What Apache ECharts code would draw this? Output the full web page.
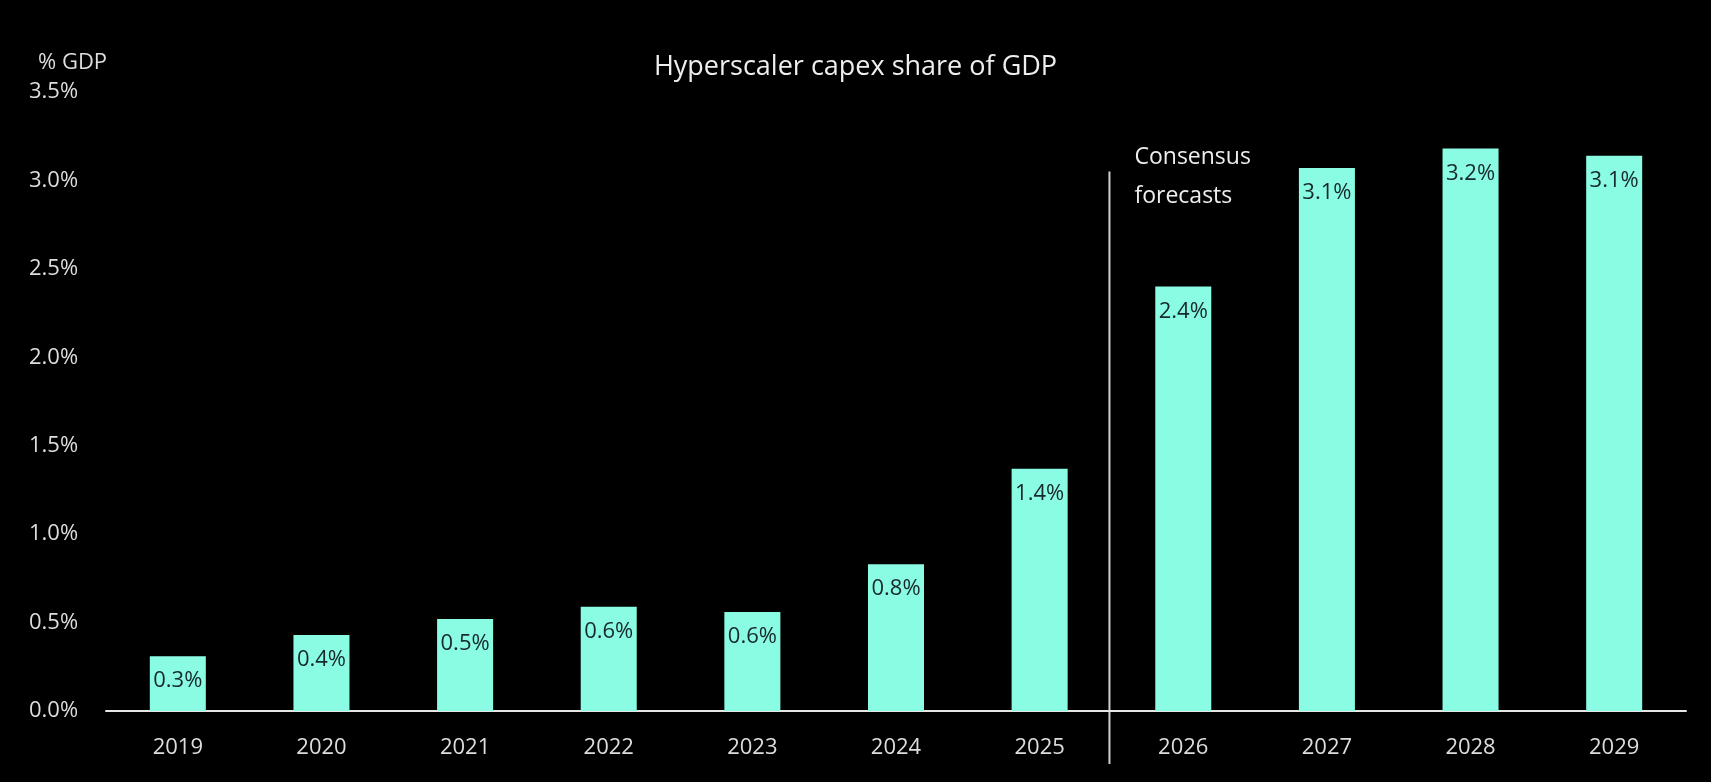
<!DOCTYPE html>
<html lang="en">
<head>
    <meta charset="UTF-8">
    <title>Hyperscaler capex share of GDP</title>
    <script src="https://cdn.jsdelivr.net/npm/echarts@6/dist/echarts.min.js"></script>
    <style>
        html, body { margin: 0; padding: 0; background: #000; }
        #main { width: 1711px; height: 782px; }
    </style>
</head>
<body>
<div id="main"></div>
<script>
    // data
    var years = ['2019', '2020', '2021', '2022', '2023', '2024', '2025', '2026', '2027', '2028', '2029'];
    var capexShare = [0.31, 0.43, 0.52, 0.59, 0.56, 0.83, 1.37, 2.40, 3.07, 3.18, 3.14];
    var yTicks = [0, 0.5, 1.0, 1.5, 2.0, 2.5, 3.0, 3.5];
    // divider between actuals and forecasts (category boundary, from top to below axis)
    var dividerLine = [[7, 3.05], [7, -0.30]];
    var dividerText = 'Consensus\nforecasts';

    var myChart = echarts.init(document.getElementById('main'));
    var font = '"Open Sans", "Noto Sans", sans-serif';

    var option = {
        backgroundColor: '#000',
        title: [
            {
                text: 'Hyperscaler capex share of GDP',
                left: 'center',
                top: 49,
                textStyle: { color: '#eeeeee', fontSize: 27, fontWeight: 'normal', fontFamily: font }
            },
            {
                text: '% GDP',
                left: 33,
                top: 47,
                textStyle: { color: '#dddddd', fontSize: 22, fontWeight: 'normal', fontFamily: font }
            }
        ],
        grid: { left: 106, right: 25, top: 92, bottom: 71 },
        xAxis: [
            {
                type: 'category',
                data: years,
                axisLine: { lineStyle: { color: '#e6e6e6', width: 2 } },
                axisTick: { show: false },
                axisLabel: { color: '#dddddd', fontSize: 22, fontFamily: font, margin: 26 }
            },
            {
                type: 'value',
                min: 0,
                max: years.length,
                show: false
            }
        ],
        yAxis: {
            type: 'value',
            min: yTicks[0],
            max: yTicks[yTicks.length - 1],
            interval: 0.5,
            splitLine: { show: false },
            axisLine: { show: false },
            axisTick: { show: false },
            axisLabel: {
                color: '#dddddd',
                fontSize: 22,
                fontFamily: font,
                align: 'left',
                margin: 77,
                formatter: function (v) { return v.toFixed(1) + '%'; }
            }
        },
        series: [
            {
                type: 'bar',
                data: capexShare,
                barWidth: '39%',
                itemStyle: { color: '#8afce3' },
                label: {
                    show: true,
                    position: 'insideTop',
                    distance: 14,
                    color: '#17282a',
                    fontSize: 22,
                    fontFamily: font,
                    formatter: function (p) { return p.value.toFixed(1) + '%'; }
                }
            }
        ]
    };

    myChart.setOption(option);

    // vertical divider + annotation, placed through the axes
    var p0 = myChart.convertToPixel({ xAxisIndex: 1, yAxisIndex: 0 }, dividerLine[0]);
    var p1 = myChart.convertToPixel({ xAxisIndex: 1, yAxisIndex: 0 }, dividerLine[1]);
    myChart.setOption({
        graphic: [
            {
                type: 'line',
                shape: { x1: p0[0] - 2, y1: p0[1], x2: p1[0] - 2, y2: p1[1] },
                style: { stroke: '#cfcfcf', lineWidth: 2 },
                silent: true
            },
            {
                type: 'text',
                x: p0[0] + 23,
                y: p0[1] - 34,
                style: {
                    text: dividerText,
                    fill: '#eeeeee',
                    font: '23px ' + font,
                    lineHeight: 39
                },
                silent: true
            }
        ]
    });
</script>
</body>
</html>
